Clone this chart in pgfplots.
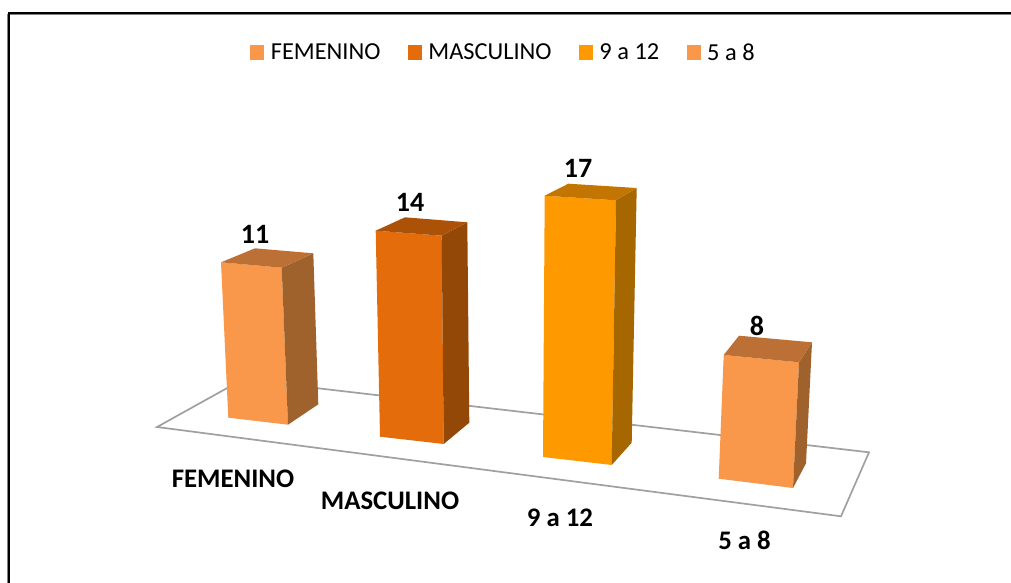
\documentclass[border=0pt]{standalone}
\usepackage{pgfplots}
\pgfplotsset{compat=1.18}
\usepackage{fontspec}
\setmainfont{Carlito}
\definecolor{naranja}{RGB}{249,151,74}
\definecolor{naranjatop}{RGB}{189,112,53}
\definecolor{naranjaside}{RGB}{160,98,45}
\definecolor{oscuro}{RGB}{228,108,10}
\definecolor{oscurotop}{RGB}{172,82,8}
\definecolor{oscuroside}{RGB}{148,72,7}
\definecolor{ambar}{RGB}{255,153,0}
\definecolor{ambartop}{RGB}{194,117,0}
\definecolor{ambarside}{RGB}{166,102,0}
\definecolor{piso}{RGB}{160,160,160}
\pgfplotsset{
    cara/.style={fill=#1,draw=none},
    etiqueta/.style={draw=none,mark=none,forget plot,point meta=explicit symbolic,nodes near coords,
        every node near coord/.style={anchor=center,inner sep=0pt,text=black,font=\fontsize{#1}{#1}\selectfont\bfseries}},
}
\begin{document}
\begin{tikzpicture}
\path[use as bounding box] (0,0) rectangle (1011pt,583pt);
\begin{axis}[
    at={(0,0)},anchor=south west,
    scale only axis,
    width=1011pt,height=583pt,
    xmin=0,xmax=1011,
    ymin=0,ymax=583,
    y dir=reverse,
    hide axis,
    clip=false,
    legend columns=4,
    legend cell align=left,
    legend style={at={(axis cs:250.3,52.5)},anchor=west,draw=none,fill=none,inner sep=0pt,outer sep=0pt,
        font=\fontsize{24.4}{24.4}\selectfont,
        /tikz/every even column/.append style={column sep=25.4pt}},
    legend image code/.code={\fill[#1] (0pt,-7.5pt) rectangle (14pt,7.5pt);\path (18.5pt,0pt);},
]
% marco
\addplot[gray,line width=1.5pt,forget plot] coordinates {(7.5,583)(7.5,14.5)(1011,14.5)};
\addplot[black,line width=1.6pt,forget plot] coordinates {(8.8,583)(8.8,13)(1011,13)};
% piso
\addplot[fill=white,draw=piso,line width=1.7pt,forget plot] coordinates {(157,427)(242.5,379.5)(869,452.3)(841,516.3)} -- cycle;
% FEMENINO 11
\addplot[cara=naranja] coordinates {(221,262.3)(281.7,267.7)(288,424.7)(228.3,417.7)} -- cycle;
\addlegendentry{FEMENINO}
\addplot[cara=naranjaside,forget plot] coordinates {(281.7,267.7)(313.3,253.3)(318.3,404.3)(288,424.7)} -- cycle;
\addplot[cara=naranjatop,forget plot] coordinates {(221,262.3)(255,248.3)(313.3,253.3)(281.7,267.7)} -- cycle;
% MASCULINO 14
\addplot[cara=oscuro] coordinates {(375.7,230.7)(441.7,235.7)(443.7,444)(380,436.7)} -- cycle;
\addlegendentry{MASCULINO}
\addplot[cara=oscuroside,forget plot] coordinates {(441.7,235.7)(467.3,222.3)(469.3,422.7)(443.7,444)} -- cycle;
\addplot[cara=oscurotop,forget plot] coordinates {(375.7,230.7)(405,217.3)(467.3,222.3)(441.7,235.7)} -- cycle;
% 9 a 12, 17
\addplot[cara=ambar] coordinates {(544.7,195.7)(616,200.3)(611.7,465)(543,457)} -- cycle;
\addlegendentry{9 a 12}
\addplot[cara=ambarside,forget plot] coordinates {(616,200.3)(636.7,188)(631.7,442.7)(611.7,465)} -- cycle;
\addplot[cara=ambartop,forget plot] coordinates {(544.7,195.7)(568.3,183.7)(636.7,188)(616,200.3)} -- cycle;
% 5 a 8, 8
\addplot[cara=naranja] coordinates {(723.7,355)(799,362.3)(793,488)(718.7,478.7)} -- cycle;
\addlegendentry{5 a 8}
\addplot[cara=naranjaside,forget plot] coordinates {(799,362.3)(812,342.3)(806,463.3)(793,488)} -- cycle;
\addplot[cara=naranjatop,forget plot] coordinates {(723.7,355)(739,335.7)(812,342.3)(799,362.3)} -- cycle;
% valores y categorias
\addplot[etiqueta=28] coordinates {(255,234)[11] (410,202)[14] (578,168)[17] (757,326)[8]};
\addplot[etiqueta=26.8] coordinates {(233,478.5)[FEMENINO] (390,501)[MASCULINO] (560,518)[9 a 12] (744.5,540)[5 a 8]};
\end{axis}
\end{tikzpicture}
\end{document}
